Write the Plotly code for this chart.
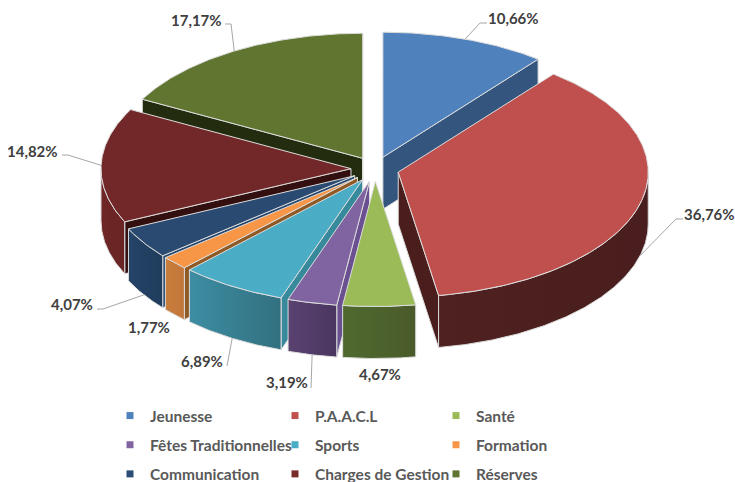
import math
import plotly.graph_objects as go

# ---- data ----
categories = ["Jeunesse", "P.A.A.C.L", "Santé", "Fêtes Traditionnelles", "Sports",
              "Formation", "Communication", "Charges de Gestion", "Réserves"]
values = [10.66, 36.76, 4.67, 3.19, 6.89, 1.77, 4.07, 14.82, 17.17]

# ---- styles ----
top_colors = ["#4f81bd", "#c0504d", "#9bbb59", "#8064a2", "#4bacc6", "#f79646", "#2a4a72", "#722828", "#5f7530"]
legend_colors = ["#4f81bd", "#c0504d", "#9bbb59", "#8064a2", "#4bacc6", "#f79646", "#2c4d75", "#772c2a", "#5f7530"]
radial_colors = ["#33557e", "#4b1e1e", "#4a5f2c", "#6a5090", "#37899c", "#8f5a25", "#24466f", "#340f0f", "#242c10"]
arc_left = ["#33557e", "#4f2120", "#4f6a2f", "#5a4270", "#3d8da3", "#c97e3c", "#254468", "#6e2626", "#242c10"]
arc_right = ["#33557e", "#4a1e1e", "#4a5a2a", "#4a3560", "#32707f", "#c2763a", "#1f3c5c", "#6a2424", "#242c10"]
edge = "#dcdcdc"
label_color = "#404040"
legend_color = "#595959"
font_family = "Lato"

# ---- projection (paper pixels) ----
cx, cy = 375, 169
rx, ry = 250, 125
pull_x, pull_y = 24, 12.5
depth = 52
W, H = 735, 482

# label pixel positions and leader-line elbows
label_xy = [(488, 18), (684, 214), (359, 374), (266, 382), (181, 361),
            (128, 327), (51, 304), (7, 151), (171, 20)]
elbows = [[(480, 23), (487, 23)], [(676, 219), (683, 219)], [], [(311, 388)], [(227, 366)],
          [], [(103, 309), (97, 309)], [(68, 155), (62, 155)], [(231, 24), (225, 24)]]

fig = go.Figure()


def polar(a, ox, oy):
    r = math.radians(a)
    return ox + rx * math.sin(r), oy - ry * math.cos(r)


def poly(points, c0, c1=None, width=1):
    xs = [p[0] for p in points] + [points[0][0]]
    ys = [p[1] for p in points] + [points[0][1]]
    kw = {}
    if c1 and c1 != c0:
        kw["fillgradient"] = dict(type="horizontal", colorscale=[[0, c0], [1, c1]])
    else:
        kw["fillcolor"] = c0
    fig.add_trace(go.Scatter(x=xs, y=ys, mode="lines", fill="toself", showlegend=False, hoverinfo="skip",
                             line=dict(color=edge, width=width), **kw))


total = sum(values)
slices = []
acc = 0
for i, v in enumerate(values):
    a0 = acc / total * 360
    acc += v
    a1 = acc / total * 360
    mid = (a0 + a1) / 2
    m = math.radians(mid)
    ox = cx + pull_x * math.sin(m)
    oy = cy - pull_y * math.cos(m)
    slices.append(dict(i=i, a0=a0, a1=a1, mid=mid, ox=ox, oy=oy))

# painter's order: farthest slice first
for s in sorted(slices, key=lambda s: -math.cos(math.radians(s["mid"]))):
    i, a0, a1, ox, oy = s["i"], s["a0"], s["a1"], s["ox"], s["oy"]
    # radial walls that face the viewer
    for ang, normal in ((a0, a0 - 90), (a1, a1 + 90)):
        if math.cos(math.radians(normal)) < 0:
            p = polar(ang, ox, oy)
            poly([(ox, oy), p, (p[0], p[1] + depth), (ox, oy + depth)], radial_colors[i])
    # outer wall: only the front half (90..270 degrees) can be seen
    b0, b1 = max(a0, 90), min(a1, 270)
    if b1 > b0:
        n = max(2, int((b1 - b0) * 2))
        arc = [polar(b0 + (b1 - b0) * k / n, ox, oy) for k in range(n + 1)]
        poly(arc + [(x, y + depth) for x, y in reversed(arc)], arc_left[i], arc_right[i])
    # top face
    n = max(2, int((a1 - a0) * 2))
    arc = [polar(a0 + (a1 - a0) * k / n, ox, oy) for k in range(n + 1)]
    poly([(ox, oy)] + arc, top_colors[i])

# leader lines and labels
for s in slices:
    i = s["i"]
    if elbows[i]:
        ax, ay = polar(s["mid"], s["ox"], s["oy"])
        if math.cos(math.radians(s["mid"])) < 0:
            ay += depth
        pts = [(ax, ay)] + elbows[i]
        fig.add_trace(go.Scatter(x=[p[0] for p in pts], y=[p[1] for p in pts], mode="lines",
                                 line=dict(color="#a6a6a6", width=1), showlegend=False, hoverinfo="skip"))
    label = f"{values[i]:.2f}%".replace(".", ",")
    fig.add_annotation(x=label_xy[i][0], y=label_xy[i][1], text=f"<b>{label}</b>", showarrow=False,
                       xanchor="left", yanchor="middle", borderpad=0, borderwidth=0,
                       font=dict(family=font_family, size=15, color=label_color))

# legend: three columns of native legend entries
legend_names = ["legend", "legend2", "legend3"]
for i, name in enumerate(categories):
    fig.add_trace(go.Scatter(x=[None], y=[None], mode="markers", name=name, legend=legend_names[i % 3],
                             legendgroup=name,
                             marker=dict(symbol="square", size=7, color=legend_colors[i])))


def leg(x):
    return dict(x=x / W, y=1 - 399 / H, xanchor="left", yanchor="top", bgcolor="rgba(0,0,0,0)",
                itemwidth=30, tracegroupgap=6, itemclick=False, itemdoubleclick=False,
                font=dict(family=font_family, size=15.5, color=legend_color, weight="bold"))


fig.update_layout(
    width=W, height=H, margin=dict(l=0, r=0, t=0, b=0, autoexpand=False),
    paper_bgcolor="white", plot_bgcolor="white",
    xaxis=dict(range=[0, W], visible=False, fixedrange=True),
    yaxis=dict(range=[H, 0], visible=False, fixedrange=True),
    showlegend=True,
    legend=leg(110), legend2=leg(275), legend3=leg(436),
)
fig.write_html("out.html", config={"displayModeBar": False},
               post_script="document.body.style.margin='0';")
